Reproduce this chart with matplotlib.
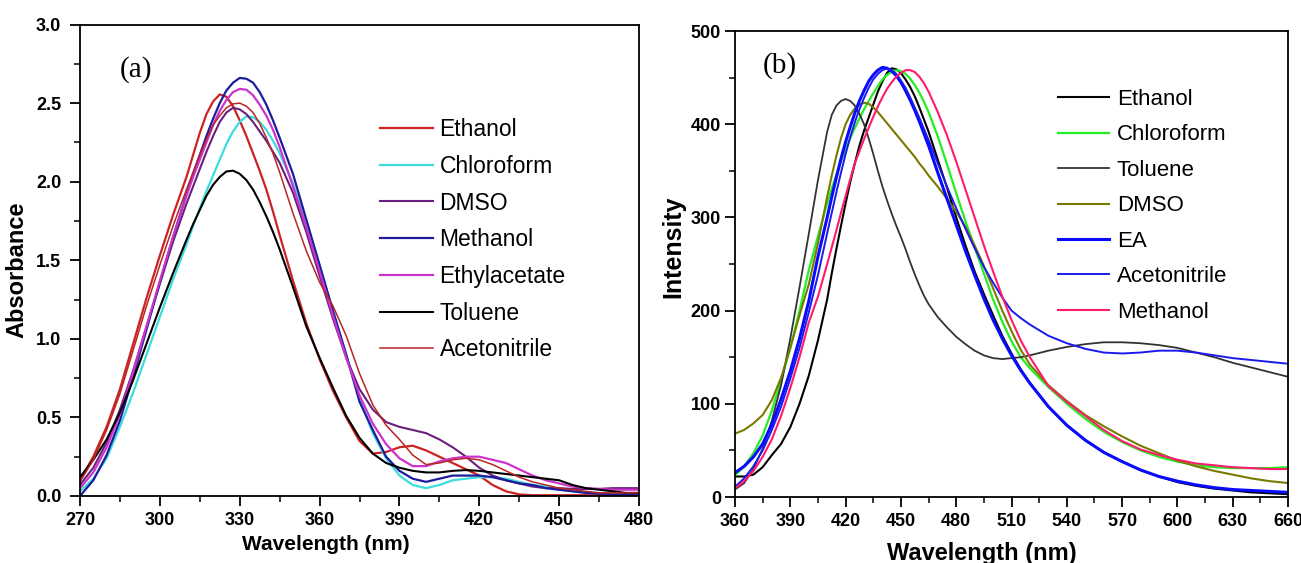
import matplotlib
matplotlib.use("Agg")
import matplotlib.pyplot as plt
from matplotlib.ticker import MultipleLocator, FormatStrFormatter

plt.rcParams['font.family'] = ['Liberation Sans', 'DejaVu Sans']

# ---------------- Panel (a): absorbance ----------------
wl_a = [270, 275, 280, 285, 290, 295, 300, 305,
        310, 312.5, 315, 317.5, 320, 322.5, 325, 327.5, 330, 332.5, 335, 337.5, 340, 342.5, 345,
        350, 355, 360, 365, 370, 375, 380, 385, 390, 395, 400, 405, 410, 415,
        420, 425, 430, 435, 440, 445, 450, 455, 460, 465, 470, 475, 480]

abs_ethanol = [0.10, 0.25, 0.44, 0.68, 0.97, 1.26, 1.53, 1.79,
               2.03, 2.17, 2.31, 2.43, 2.51, 2.555, 2.54, 2.48, 2.39, 2.29, 2.18, 2.07, 1.95, 1.81, 1.66,
               1.37, 1.10, 0.87, 0.67, 0.50, 0.35, 0.27, 0.28, 0.31, 0.32, 0.29, 0.25, 0.21, 0.17,
               0.13, 0.07, 0.03, 0.01, 0.005, 0.005, 0.005, 0.005, 0.005, 0.005, 0.005, 0.005, 0.005]
abs_chloroform = [0.03, 0.11, 0.24, 0.44, 0.66, 0.90, 1.14, 1.38,
                  1.60, 1.72, 1.83, 1.94, 2.04, 2.14, 2.24, 2.32, 2.38, 2.415, 2.41, 2.38, 2.33, 2.26, 2.18,
                  1.99, 1.74, 1.47, 1.18, 0.90, 0.62, 0.40, 0.24, 0.13, 0.07, 0.05, 0.07, 0.10, 0.11,
                  0.12, 0.12, 0.11, 0.09, 0.07, 0.06, 0.04, 0.03, 0.02, 0.02, 0.01, 0.01, 0.01]
abs_dmso = [0.07, 0.18, 0.34, 0.55, 0.80, 1.08, 1.35, 1.62,
            1.86, 1.97, 2.08, 2.19, 2.29, 2.38, 2.44, 2.47, 2.46, 2.43, 2.38, 2.32, 2.26, 2.19, 2.12,
            1.93, 1.68, 1.40, 1.13, 0.88, 0.68, 0.55, 0.47, 0.44, 0.42, 0.40, 0.36, 0.31, 0.25,
            0.18, 0.13, 0.10, 0.08, 0.06, 0.05, 0.05, 0.045, 0.045, 0.045, 0.05, 0.05, 0.05]
abs_methanol = [0.00, 0.10, 0.26, 0.48, 0.76, 1.06, 1.36, 1.65,
                1.92, 2.05, 2.17, 2.29, 2.40, 2.50, 2.58, 2.63, 2.66, 2.655, 2.63, 2.57, 2.49, 2.39, 2.28,
                2.05, 1.76, 1.47, 1.18, 0.90, 0.60, 0.42, 0.25, 0.16, 0.11, 0.09, 0.11, 0.13, 0.13,
                0.13, 0.12, 0.10, 0.08, 0.07, 0.05, 0.04, 0.03, 0.02, 0.015, 0.01, 0.01, 0.01]
abs_ethylacetate = [0.05, 0.15, 0.31, 0.52, 0.79, 1.08, 1.37, 1.65,
                    1.91, 2.03, 2.14, 2.25, 2.36, 2.45, 2.52, 2.57, 2.59, 2.585, 2.55, 2.49, 2.42, 2.33, 2.22,
                    1.97, 1.71, 1.43, 1.15, 0.88, 0.64, 0.46, 0.33, 0.24, 0.19, 0.19, 0.22, 0.24, 0.25,
                    0.25, 0.23, 0.21, 0.17, 0.13, 0.10, 0.08, 0.06, 0.05, 0.045, 0.04, 0.04, 0.04]
abs_toluene = [0.12, 0.23, 0.36, 0.53, 0.74, 0.97, 1.20, 1.42,
               1.63, 1.73, 1.82, 1.91, 1.98, 2.03, 2.065, 2.07, 2.05, 2.01, 1.95, 1.87, 1.78, 1.68, 1.57,
               1.33, 1.08, 0.88, 0.69, 0.51, 0.37, 0.27, 0.21, 0.18, 0.16, 0.15, 0.15, 0.16, 0.165,
               0.16, 0.15, 0.14, 0.13, 0.12, 0.11, 0.10, 0.07, 0.05, 0.04, 0.03, 0.02, 0.02]
abs_acetonitrile = [0.09, 0.23, 0.42, 0.65, 0.93, 1.21, 1.47, 1.72,
                    1.95, 2.06, 2.17, 2.27, 2.36, 2.42, 2.47, 2.495, 2.50, 2.48, 2.44, 2.37, 2.28, 2.18, 2.06,
                    1.80, 1.56, 1.36, 1.21, 1.02, 0.78, 0.58, 0.45, 0.36, 0.26, 0.20, 0.21, 0.23, 0.24,
                    0.23, 0.20, 0.16, 0.12, 0.09, 0.07, 0.05, 0.04, 0.03, 0.02, 0.02, 0.02, 0.02]

labels_a = ['Ethanol', 'Chloroform', 'DMSO', 'Methanol', 'Ethylacetate', 'Toluene', 'Acetonitrile']
series_a = [abs_ethanol, abs_chloroform, abs_dmso, abs_methanol, abs_ethylacetate, abs_toluene, abs_acetonitrile]
colors_a = ['#cc2222', '#3cdcdc', '#6a1f7c', '#1c1c9c', '#cc33cc', '#000000', '#b82525']
widths_a = [1.6, 1.6, 1.5, 1.6, 1.6, 1.5, 1.1]

# ---------------- Panel (b): fluorescence ----------------
wl_b = [360, 365, 370, 375, 380, 385, 390, 395, 400, 405,
        410, 412.5, 415, 417.5, 420, 422.5, 425, 427.5, 430, 432.5, 435, 437.5, 440, 442.5,
        445, 447.5, 450, 452.5, 455, 457.5, 460, 462.5, 465,
        470, 475, 480, 485, 490, 495, 500, 505, 510, 515, 520,
        530, 540, 550, 560, 570, 580, 590, 600, 610, 620, 630, 640, 650, 660]

int_ethanol = [22, 22, 24, 32, 45, 57, 75, 100, 130, 168,
               212, 240, 266, 291, 315, 338, 358, 377, 393, 407, 421, 435, 446, 455,
               460, 459, 455, 448, 440, 430, 418, 405, 392,
               362, 332, 300, 270, 242, 218, 195, 173, 154, 137, 122,
               97, 77, 61, 48, 38, 29, 22, 16, 12, 9, 7, 5, 4, 3]
int_chloroform = [23, 33, 47, 66, 93, 125, 160, 200, 243, 280,
                  315, 331, 346, 360, 373, 385, 396, 406, 416, 425, 433, 441, 448, 453,
                  456, 458, 457, 454, 449, 442, 434, 424, 413,
                  387, 357, 326, 296, 268, 240, 212, 188, 167, 150, 138,
                  118, 100, 84, 70, 59, 50, 43, 38, 34, 32, 31, 31, 31, 32]
int_toluene = [8, 15, 30, 52, 82, 120, 170, 225, 282, 340,
               392, 410, 420, 425, 427, 425, 420, 411, 400, 385, 368, 350, 333, 318,
               304, 291, 279, 266, 252, 239, 227, 216, 207,
               193, 182, 172, 164, 157, 152, 149, 148, 149, 150, 152,
               157, 161, 164, 166, 166, 165, 163, 160, 155, 150, 144, 139, 134, 129]
int_dmso = [68, 72, 79, 88, 104, 128, 160, 195, 228, 272,
            322, 345, 366, 385, 400, 410, 417, 421, 423, 422, 418, 413, 407, 401,
            395, 389, 383, 377, 371, 365, 358, 352, 345,
            333, 320, 306, 290, 270, 248, 224, 200, 178, 158, 142,
            120, 103, 88, 76, 65, 55, 47, 39, 33, 28, 24, 20, 17, 15]
int_ea = [26, 33, 43, 57, 78, 105, 135, 170, 210, 258,
          300, 322, 343, 363, 381, 397, 412, 425, 436, 446, 453, 458, 461, 460,
          457, 452, 445, 436, 426, 415, 403, 390, 377,
          348, 320, 292, 264, 238, 213, 190, 170, 152, 136, 122,
          97, 77, 61, 48, 38, 29, 22, 17, 13, 10, 8, 7, 6, 5]
int_acetonitrile = [11, 20, 33, 50, 72, 97, 127, 160, 198, 238,
                    283, 305, 327, 348, 368, 386, 402, 416, 428, 439, 448, 454, 458, 460,
                    458, 454, 447, 439, 429, 418, 407, 395, 383,
                    358, 333, 310, 288, 267, 247, 230, 214, 200, 192, 185,
                    173, 165, 159, 155, 154, 155, 157, 157, 155, 152, 149, 147, 145, 143]
int_methanol = [9, 17, 28, 43, 62, 87, 117, 150, 187, 215,
                250, 268, 286, 305, 323, 341, 358, 371, 384, 396, 408, 419, 429, 438,
                445, 451, 455, 458, 458, 456, 451, 444, 435,
                413, 388, 360, 330, 300, 270, 242, 215, 190, 168, 150,
                119, 102, 87, 72, 60, 51, 45, 40, 36, 34, 32, 31, 30, 30]

labels_b = ['Ethanol', 'Chloroform', 'Toluene', 'DMSO', 'EA', 'Acetonitrile', 'Methanol']
series_b = [int_ethanol, int_chloroform, int_toluene, int_dmso, int_ea, int_acetonitrile, int_methanol]
colors_b = ['#000000', '#22ee22', '#333333', '#7a7a00', '#0a0aff', '#1a1aee', '#ff1a6e']
widths_b = [1.5, 1.6, 1.3, 1.5, 2.2, 1.4, 1.5]

W, H = 13.01, 5.63
fig = plt.figure(figsize=(W, H), dpi=100)

def frac(x0, y0, x1, y1):
    return [x0 / 1301, 1 - y1 / 563, (x1 - x0) / 1301, (y1 - y0) / 563]

axA = fig.add_axes(frac(80, 24.5, 639, 496))
axB = fig.add_axes(frac(735, 31, 1288, 497))

for y, lab, c, lw in zip(series_a, labels_a, colors_a, widths_a):
    axA.plot(wl_a, y, color=c, lw=lw, label=lab, solid_joinstyle='round')
for y, lab, c, lw in zip(series_b, labels_b, colors_b, widths_b):
    axB.plot(wl_b, y, color=c, lw=lw, label=lab, solid_joinstyle='round')

def style(ax, xlim, ylim, xmaj, xmin, ymaj, ymin, ypad):
    ax.set_xlim(*xlim)
    ax.set_ylim(*ylim)
    ax.xaxis.set_major_locator(MultipleLocator(xmaj))
    ax.xaxis.set_minor_locator(MultipleLocator(xmin))
    ax.yaxis.set_major_locator(MultipleLocator(ymaj))
    ax.yaxis.set_minor_locator(MultipleLocator(ymin))
    ax.tick_params(which='major', direction='out', length=7.5, width=1.3, labelsize=13,
                   top=False, right=False)
    ax.tick_params(which='minor', direction='out', length=4, width=1.1, top=False, right=False)
    ax.tick_params(axis='y', which='major', pad=ypad)
    ax.tick_params(axis='x', which='major', pad=4)
    for s in ax.spines.values():
        s.set_linewidth(1.3)

style(axA, (270, 480), (0, 3.0), 30, 15, 0.5, 0.25, 6)
axA.yaxis.set_major_formatter(FormatStrFormatter('%.1f'))
style(axB, (360, 660), (0, 500), 30, 15, 100, 50, 2.5)
for ax in (axA, axB):
    for lab in ax.get_xticklabels() + ax.get_yticklabels():
        lab.set_fontweight('bold')

axA.set_xlabel('Wavelength (nm)', fontsize=15, fontweight='bold')
axA.set_ylabel('Absorbance', fontsize=17, fontweight='bold')
axA.xaxis.set_label_coords(0.44, -0.083)
axA.yaxis.set_label_coords(-0.093, 0.48)

axB.set_xlabel('Wavelength (nm)', fontsize=17, fontweight='bold')
axB.set_ylabel('Intensity', fontsize=18, fontweight='bold')
axB.xaxis.set_label_coords(0.446, -0.097)
axB.yaxis.set_label_coords(-0.09, 0.536)

axA.text(0.072, 0.905, '(a)', transform=axA.transAxes, fontsize=21,
         family=['Liberation Serif', 'DejaVu Serif'], va='center', ha='left')
axB.text(0.05, 0.925, '(b)', transform=axB.transAxes, fontsize=21,
         family=['Liberation Serif', 'DejaVu Serif'], va='center', ha='left')

axA.legend(loc='upper left', bbox_to_anchor=((380 - 80) / 559, (496 - 118) / 471.5),
           frameon=False, fontsize=16.5, handlelength=2.3, handletextpad=0.3,
           labelspacing=0.6, borderpad=0, borderaxespad=0)
axB.legend(loc='upper left', bbox_to_anchor=((1058 - 735) / 553, (497 - 89) / 466),
           frameon=False, fontsize=16, handlelength=2.3, handletextpad=0.35,
           labelspacing=0.65, borderpad=0, borderaxespad=0)

fig.savefig('out.png', dpi=100)
